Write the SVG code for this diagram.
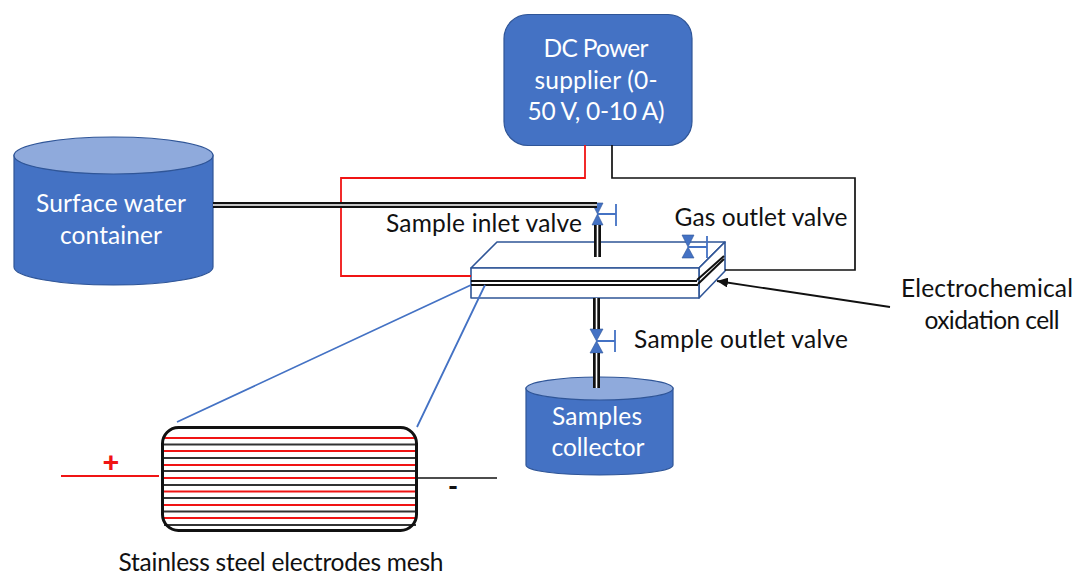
<svg xmlns="http://www.w3.org/2000/svg" width="1075" height="574" viewBox="0 0 1075 574">
<style>
text{font-family:"Lato","Open Sans","Liberation Sans",sans-serif;font-size:24.500px;fill:#111;text-anchor:middle}
text.w{fill:#fff}
.body{fill:#4472c4;stroke:#2f5597;stroke-width:1.2}
.top{fill:#8faadc;stroke:#2f5597;stroke-width:1.2}
.pipeo{fill:none;stroke:#111;stroke-width:6}
.pipev{fill:none;stroke:#111;stroke-width:7}
.pipei{fill:none;stroke:#fff;stroke-width:1.600}
.red{fill:none;stroke:#f01414;stroke-width:1.800}
.blk{fill:none;stroke:#111;stroke-width:1.700}
.blue{fill:none;stroke:#4472c4;stroke-width:1.800}
.cell{fill:#fff;stroke:#2f5597;stroke-width:1.600;stroke-linejoin:round}
.vt{fill:#4472c4;stroke:#2f5597;stroke-width:.6}
.ml{stroke-width:2;fill:none}
</style>
<defs>
<marker id="arr" markerUnits="userSpaceOnUse" markerWidth="12" markerHeight="10" refX="11" refY="5" orient="auto"><path d="M0 0L11 5L0 10Z" fill="#111"/></marker>
</defs>
<g id="surface-water-container">
<path class="body" d="M14 155V267C14 277 58 285 113.500 285S213 277 213 267V155Z"/>
<ellipse class="top" cx="113.500" cy="155.500" rx="99.500" ry="18.500"/>
<text class="w" x="111" y="212" textLength="150">Surface water</text>
<text class="w" x="111" y="244" textLength="102">container</text>
</g>
<g id="dc-power-supplier">
<rect class="body" x="504" y="14.500" width="188" height="131" rx="24"/>
<text class="w" x="596" y="57" textLength="105">DC Power</text>
<text class="w" x="596" y="89" textLength="123">supplier (0-</text>
<text class="w" x="596" y="120" textLength="137">50 V, 0-10 A)</text>
</g>
<g id="electrochemical-oxidation-cell">
<path class="cell" d="M471 268L497 242H725L699 268Z"/>
<path class="cell" d="M699 268L725 242V271L699 298Z"/>
<rect class="cell" x="471" y="268" width="228" height="30"/>
<path d="M471 281H697M471 285H698" stroke="#111" stroke-width="2" fill="none"/>
<path d="M697 280L724 256M698 284L724 259" stroke="#111" stroke-width="2" fill="none"/>
<text x="987" y="297" textLength="172">Electrochemical</text>
<text x="992" y="329" textLength="135">oxidation cell</text>
</g>
<g id="sample-inlet-valve">
<path class="vt" d="M592 203H603L597.500 214Z"/><path class="vt" d="M592 225H603L597.500 214Z"/>
<path class="blue" d="M597.500 214H616M616 204V226"/>
<text x="484" y="232" textLength="196">Sample inlet valve</text>
</g>
<g id="gas-outlet-valve">
<path class="vt" d="M682 235H694L688 247Z"/><path class="vt" d="M682 258H694L688 247Z"/>
<path class="blue" d="M688 247H707M707 236V258"/>
<text x="761" y="226" textLength="173">Gas outlet valve</text>
</g>
<g id="sample-outlet-valve">
<path class="vt" d="M590 329H603L596.500 341Z"/><path class="vt" d="M590 353H603L596.500 341Z"/>
<path class="blue" d="M596.500 341H615M615 330V352"/>
<text x="741" y="348" textLength="214">Sample outlet valve</text>
</g>
<g id="samples-collector">
<path class="body" d="M526 388V465C526 471 559 475 599.500 475S673 471 673 465V388Z"/>
<ellipse class="top" cx="599.500" cy="388.500" rx="73.500" ry="11.500"/>
<text class="w" x="597" y="425" textLength="90">Samples</text>
<text class="w" x="598" y="456" textLength="93">collector</text>
</g>
<g id="electrodes-mesh">
<g class="ml" stroke="#333">
<path d="M164 444.500H416M164 458H416M164 471H416M164 485H416M164 498H416M164 511.500H416M164 525H416"/>
</g>
<g class="ml" stroke="#f01414">
<path d="M164 438H416M164 451H416M164 465H416M164 478H416M164 491.500H416M164 505H416M164 518H416"/>
</g>
<rect x="162.500" y="427.500" width="254" height="103" rx="16" fill="none" stroke="#111" stroke-width="3"/>
<text x="111" y="472" style="fill:#f01414;font-weight:900;font-size:29px">+</text>
<text x="453" y="496" style="font-weight:900;font-size:27px">-</text>
<text x="281" y="571" textLength="325">Stainless steel electrodes mesh</text>
</g>
<g id="connectors">
<path class="red" d="M585 145V178H341V276H471"/>
<path class="blk" d="M612 145V178H855V270H725"/>
<path class="pipeo" d="M213 205H597"/><path class="pipei" d="M213 205H597"/>
<path class="pipev" d="M597.500 225V257"/><path class="pipei" d="M597.500 225V257"/>
<path class="pipev" d="M596.500 298V329"/><path class="pipei" d="M596.500 298V329"/>
<path class="pipev" d="M596.500 353V388"/><path class="pipei" d="M596.500 353V388"/>
<path class="blue" d="M471 285L177 422M485 285L417 427"/>
<path d="M890 307L717 281" stroke="#111" stroke-width="1.800" fill="none" marker-end="url(#arr)"/>
<path class="red" d="M61 476H159"/>
<path class="blk" d="M417 478H497"/>
</g>
</svg>
